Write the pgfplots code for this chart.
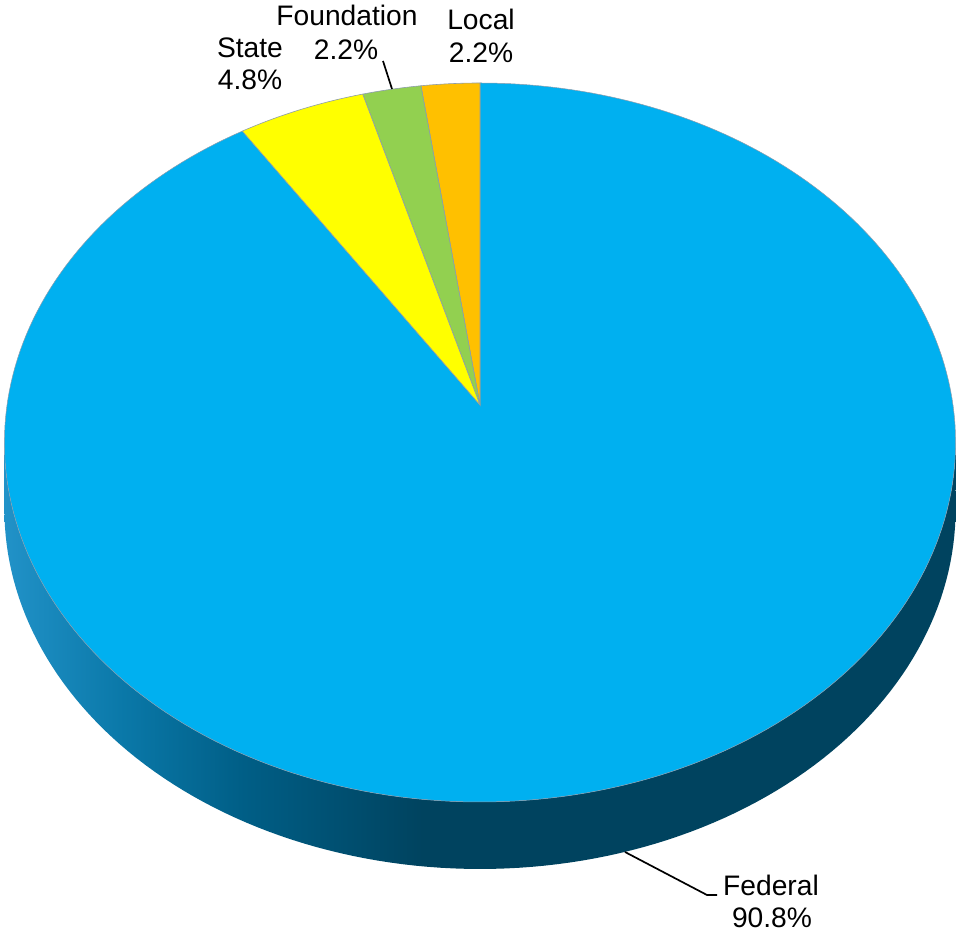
\documentclass[border=0pt]{standalone}
\usepackage{fontspec}
\setmainfont{Liberation Sans}
\usepackage{pgfplots}
\usepackage{pgfplotstable}
\pgfplotsset{compat=1.18}

\definecolor{fed}{HTML}{00B0F0}
\definecolor{state}{HTML}{FFFF00}
\definecolor{found}{HTML}{92D050}
\definecolor{local}{HTML}{FFC000}
\definecolor{sideL}{HTML}{2192C8}
\definecolor{sideM1}{HTML}{0A78A8}
\definecolor{sideM2}{HTML}{005E86}
\definecolor{sideD}{HTML}{00435F}
\definecolor{rim}{HTML}{8C9CAC}

\pgfdeclarehorizontalshading{sideshade}{100bp}{color(0bp)=(sideL); color(25bp)=(sideL); color(31.3bp)=(sideM1); color(37.6bp)=(sideM2); color(47bp)=(sideD); color(100bp)=(sideD)}

\pgfplotstableread{
source share
Local 2.2
Foundation 2.2
State 4.8
Federal 90.8
}\sharetable

\pgfplotstablegetelem{0}{share}\of\sharetable \let\sA\pgfplotsretval
\pgfplotstablegetelem{1}{share}\of\sharetable \let\sB\pgfplotsretval
\pgfplotstablegetelem{2}{share}\of\sharetable \let\sC\pgfplotsretval
\pgfplotstablegetelem{3}{share}\of\sharetable \let\sD\pgfplotsretval
\pgfmathsetmacro\aA{90}
\pgfmathsetmacro\aB{\aA+3.6*\sA}
\pgfmathsetmacro\aC{\aB+3.6*\sB}
\pgfmathsetmacro\aD{\aC+3.6*\sC}
\pgfmathsetmacro\aE{\aD+3.6*\sD}

\newcommand{\lbl}{\fontsize{28.3}{34}\selectfont}

\begin{document}
\begin{tikzpicture}
\begin{axis}[
  x=1bp, y=1bp, xmin=0, xmax=958, ymin=0, ymax=934,
  scale only axis, hide axis, clip=false,
  declare function={
    px(\t)=480+473*cos(\t)/(1+0.1043*sin(\t));
    py(\t)=529+355.6*sin(\t)/(1+0.1043*sin(\t));
  },
]
\path (axis cs:0,0) rectangle (axis cs:958,934);

% side of the disc (front)
\addplot[draw=none, shade, shading=sideshade, domain=0:2, samples=241, variable=\s]
  ({\s<=1 ? px(185.99+168.02*\s) : px(354.01-168.02*(\s-1))},
   {\s<=1 ? py(185.99+168.02*\s) : py(354.01-168.02*(\s-1))-67});

% top face wedges
\addplot[fill=fed, draw=rim, line width=0.5pt, domain=\aD:\aE, samples=240, variable=\t]
  ({px(\t)},{py(\t)}) -- (axis cs:480,529) -- cycle;
\addplot[fill=local, draw=rim, line width=0.6pt, domain=\aA:\aB, samples=12, variable=\t]
  ({px(\t)},{py(\t)}) -- (axis cs:480,529) -- cycle;
\addplot[fill=found, draw=rim, line width=0.6pt, domain=\aB:\aC, samples=12, variable=\t]
  ({px(\t)},{py(\t)}) -- (axis cs:480,529) -- cycle;
\addplot[fill=state, draw=rim, line width=0.6pt, domain=\aC:\aD, samples=20, variable=\t]
  ({px(\t)},{py(\t)}) -- (axis cs:480,529) -- cycle;

% leader lines
\draw[black, line width=1.7pt] (axis cs:383,873) -- (axis cs:392,845);
\draw[black, line width=1.7pt] (axis cs:625,82) -- (axis cs:707,39) -- (axis cs:717,39);

% labels
\node[anchor=base, font=\lbl] at (axis cs:481,904) {Local};
\node[anchor=base, font=\lbl] at (axis cs:481,871) {2.2\%};
\node[anchor=base, font=\lbl] at (axis cs:347,908) {Foundation};
\node[anchor=base, font=\lbl] at (axis cs:346,874) {2.2\%};
\node[anchor=base, font=\lbl] at (axis cs:250,876) {State};
\node[anchor=base, font=\lbl] at (axis cs:250,844) {4.8\%};
\node[anchor=base, font=\lbl] at (axis cs:771,38) {Federal};
\node[anchor=base, font=\lbl] at (axis cs:772,6) {90.8\%};
\end{axis}
\end{tikzpicture}
\end{document}
